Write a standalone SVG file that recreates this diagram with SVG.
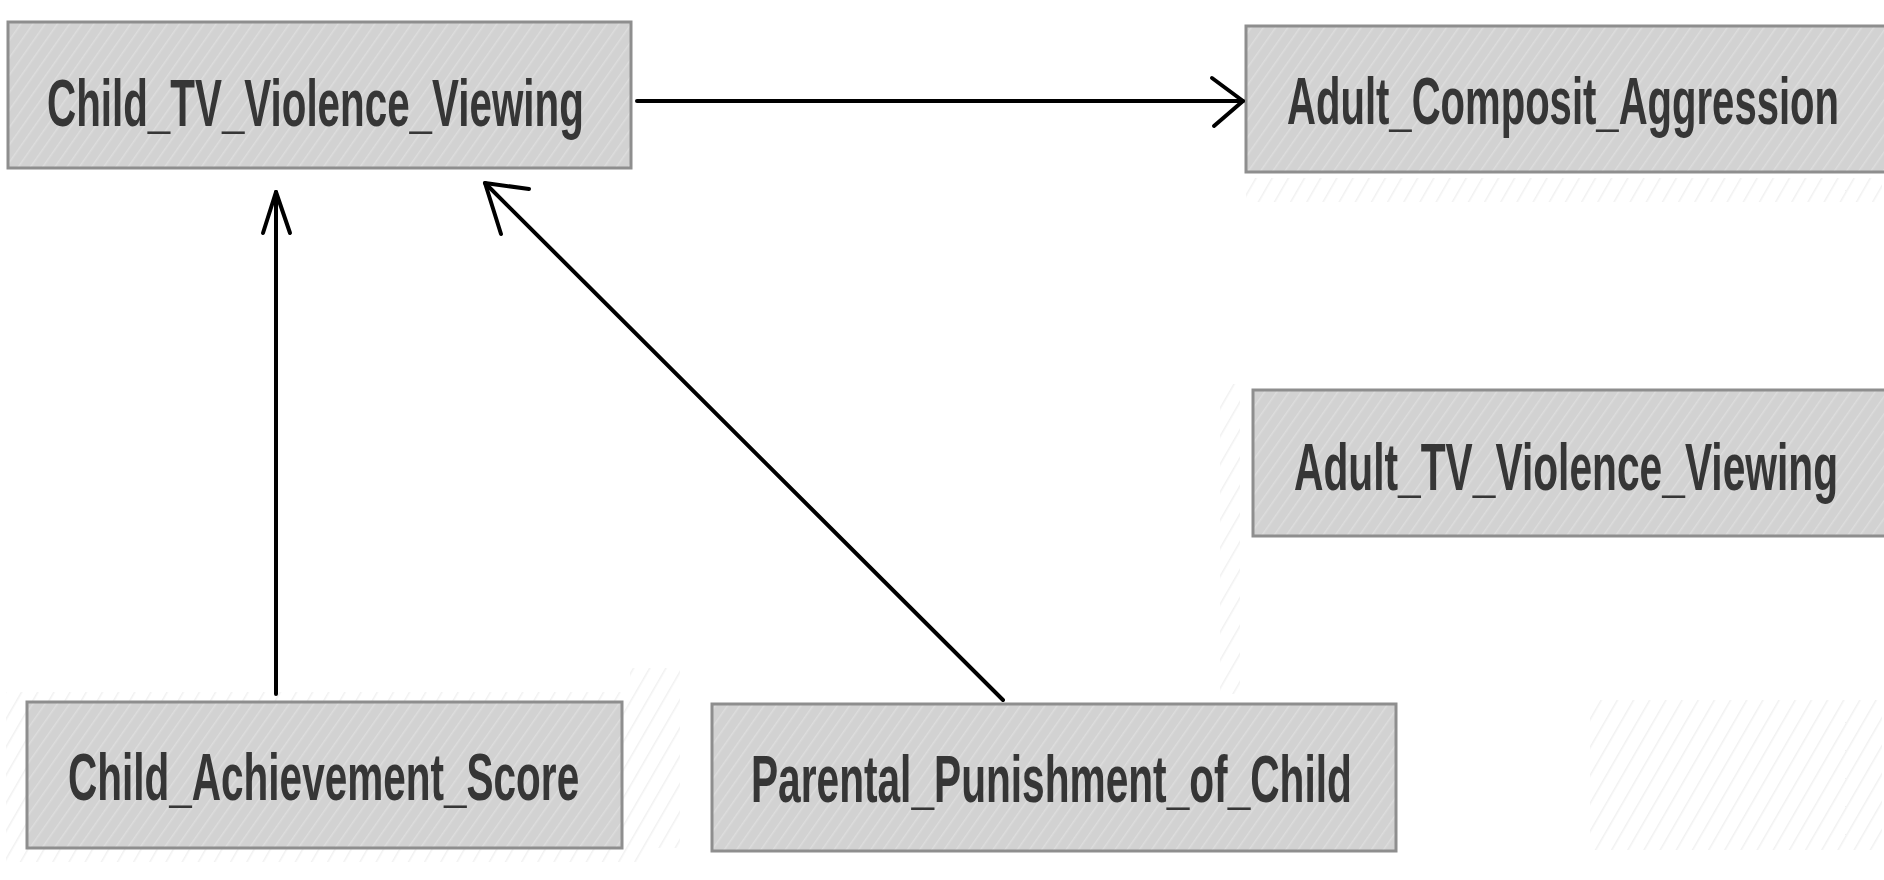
<svg xmlns="http://www.w3.org/2000/svg" width="1884" height="880" viewBox="0 0 1884 880">
  <style>
    .box { fill: url(#hatch); stroke: #8e8e8e; stroke-width: 3; }
    .lbl { font-family: "Liberation Sans", Arial, sans-serif; font-weight: bold; font-size: 66px; fill: #363636; }
    .edge { fill: none; stroke: #000; stroke-width: 4; stroke-linecap: round; stroke-linejoin: round; }
    .shade { fill: url(#faint); }
  </style>
  <defs>
    <pattern id="hatch" patternUnits="userSpaceOnUse" width="10" height="10" patternTransform="rotate(35)">
      <rect width="10" height="10" fill="#d2d2d2"/>
      <line x1="0" y1="0" x2="0" y2="10" stroke="#dddddd" stroke-width="3"/>
    </pattern>
    <pattern id="faint" patternUnits="userSpaceOnUse" width="14" height="14" patternTransform="rotate(30)">
      <rect width="14" height="14" fill="#ffffff"/>
      <line x1="0" y1="0" x2="0" y2="14" stroke="#f1f1f1" stroke-width="3"/>
    </pattern>
  </defs>
  <rect width="1884" height="880" fill="#ffffff"/>
  <g id="background-shades">
    <rect class="shade" x="1220" y="384" width="20" height="310"/>
    <rect class="shade" x="1246" y="178" width="636" height="24"/>
    <rect class="shade" x="1590" y="700" width="292" height="150"/>
    <rect class="shade" x="630" y="668" width="50" height="180"/>
    <rect class="shade" x="6" y="692" width="640" height="170"/>
  </g>
  <g id="node-child-tv">
    <rect class="box" x="8" y="22" width="623" height="146"/>
    <text class="lbl" transform="translate(47 126) scale(0.61 1)" textLength="880" lengthAdjust="spacingAndGlyphs">Child_TV_Violence_Viewing</text>
  </g>
  <g id="node-adult-aggression">
    <rect class="box" x="1246" y="26" width="640" height="146"/>
    <text class="lbl" transform="translate(1287 124) scale(0.61 1)" textLength="905" lengthAdjust="spacingAndGlyphs">Adult_Composit_Aggression</text>
  </g>
  <g id="node-adult-tv">
    <rect class="box" x="1253" y="390" width="633" height="146"/>
    <text class="lbl" transform="translate(1294 490) scale(0.61 1)" textLength="892" lengthAdjust="spacingAndGlyphs">Adult_TV_Violence_Viewing</text>
  </g>
  <g id="node-child-achievement">
    <rect class="box" x="27" y="702" width="595" height="146"/>
    <text class="lbl" transform="translate(68 800) scale(0.61 1)" textLength="838" lengthAdjust="spacingAndGlyphs">Child_Achievement_Score</text>
  </g>
  <g id="node-parental-punishment">
    <rect class="box" x="712" y="704" width="684" height="147"/>
    <text class="lbl" transform="translate(751 802) scale(0.61 1)" textLength="985" lengthAdjust="spacingAndGlyphs">Parental_Punishment_of_Child</text>
  </g>
  <g id="connectors">
    <path class="edge" d="M637 101 L1243 101"/>
    <path class="edge" d="M1212 78 L1243 101 L1214 126"/>
    <path class="edge" d="M276 694 L276 192"/>
    <path class="edge" d="M263 233 L276 192 L290 233"/>
    <path class="edge" d="M1003 700 L485 183"/>
    <path class="edge" d="M529 189 L485 183 L501 234"/>
  </g>
</svg>
